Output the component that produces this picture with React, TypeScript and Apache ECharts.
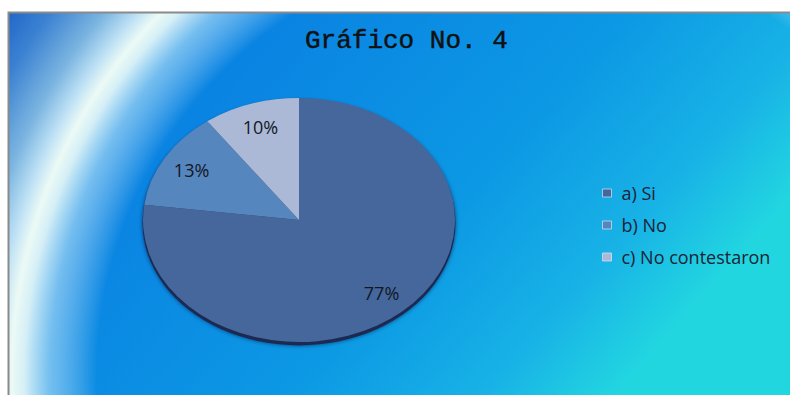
import React, { useEffect, useRef } from "react";
import * as echarts from "echarts";

const titleText = "Gráfico No. 4";
const categories = ["a) Si", "b) No", "c) No contestaron"];
const values = [77, 13, 10];
const sliceColors = ["#45679b", "#5686be", "#abb9d6"];

const CX = 299;
const CY = 220;
const R = 156;
const SY = 122 / 156;

export default function App() {
  const ref = useRef<HTMLDivElement>(null);
  useEffect(() => {
    if (!ref.current) return;
    const chart = echarts.init(ref.current, null, { renderer: "svg" });
    const total = values.reduce((a, b) => a + b, 0);

    const series = categories.map((name, i) => ({
      type: "custom",
      name,
      coordinateSystem: "none",
      data: [[values[i]]],
      itemStyle: { color: sliceColors[i] },
      renderItem: (params: any, api: any) => {
        const v = api.value(0);
        let cum = 0;
        for (let k = 0; k < i; k++) cum += values[k];
        const start = -Math.PI / 2 + (2 * Math.PI * cum) / total;
        const end = start + (2 * Math.PI * v) / total;
        const mid = (start + end) / 2;
        const children: any[] = [];
        if (i === 0) {
          children.push({
            type: "sector",
            x: CX,
            y: CY + 3,
            scaleY: SY,
            shape: { cx: 0, cy: 0, r: R + 0.5, r0: 0, startAngle: 0, endAngle: Math.PI * 2 },
            style: { fill: "#1b2a52", shadowBlur: 4, shadowColor: "rgba(10,20,50,0.6)" },
          });
        }
        children.push({
          type: "sector",
          x: CX,
          y: CY,
          scaleY: SY,
          shape: { cx: 0, cy: 0, r: R, r0: 0, startAngle: start, endAngle: end, clockwise: true },
          style: { fill: sliceColors[i] },
        });
        children.push({
          type: "text",
          x: CX + Math.cos(mid) * R * 0.8,
          y: CY + Math.sin(mid) * R * 0.8 * SY,
          style: {
            text: v + "%",
            fill: "#121827",
            fontSize: 18,
            fontFamily: "Open Sans",
            align: "center",
            verticalAlign: "middle",
          },
        });
        return { type: "group", children };
      },
    }));

    chart.setOption({
      animation: false,
      backgroundColor: "#ffffff",
      title: {
        text: titleText,
        left: 300,
        top: 23,
        textStyle: {
          fontFamily: "Liberation Mono",
          fontSize: 26,
          fontWeight: "normal",
          color: "#111111",
          textBorderColor: "#111111",
          textBorderWidth: 0.5,
        },
      },
      legend: {
        orient: "vertical",
        left: 597,
        top: 179,
        itemWidth: 9,
        itemHeight: 8,
        itemGap: 14,
        icon: "rect",
        data: categories,
        itemStyle: { borderColor: "rgba(220,230,245,0.7)", borderWidth: 1 },
        textStyle: { fontFamily: "Open Sans", fontSize: 18, color: "#1a2436", padding: [0, 0, 0, 5] },
      },
      graphic: [
        {
          type: "rect",
          z: -10,
          shape: { x: 8, y: 12, width: 790, height: 390 },
          style: {
            fill: {
              type: "linear",
              x: 250,
              y: 60,
              x2: 620,
              y2: 390,
              global: true,
              colorStops: [
                { offset: 0, color: "#0a84e2" },
                { offset: 0.5, color: "#0c98e4" },
                { offset: 0.8, color: "#18b2e6" },
                { offset: 1, color: "#22d6e0" },
              ],
            },
          },
        },
        {
          type: "rect",
          z: -9,
          shape: { x: 8, y: 12, width: 790, height: 390 },
          style: {
            fill: {
              type: "radial",
              x: 530,
              y: 377,
              r: 640,
              global: true,
              colorStops: [
                { offset: 0, color: "rgba(255,255,255,0)" },
                { offset: 0.677, color: "rgba(255,255,255,0)" },
                { offset: 0.75, color: "rgba(200,235,250,0.55)" },
                { offset: 0.79, color: "rgba(230,248,248,0.92)" },
                { offset: 0.81, color: "rgba(236,250,245,1)" },
                { offset: 0.835, color: "rgba(190,225,245,1)" },
                { offset: 0.875, color: "rgba(122,180,224,1)" },
                { offset: 0.94, color: "rgba(60,130,210,1)" },
                { offset: 1, color: "rgba(30,100,200,1)" },
              ],
            },
          },
        },
        {
          type: "rect",
          z: -8,
          shape: { x: 8.5, y: 12.5, width: 800, height: 400 },
          style: { fill: "none", stroke: "#8a8a8a", lineWidth: 2 },
        },
      ],
      series,
    });
    return () => chart.dispose();
  }, []);
  return <div ref={ref} style={{ position: "fixed", left: 0, top: 0, width: 790, height: 395 }} />;
}
